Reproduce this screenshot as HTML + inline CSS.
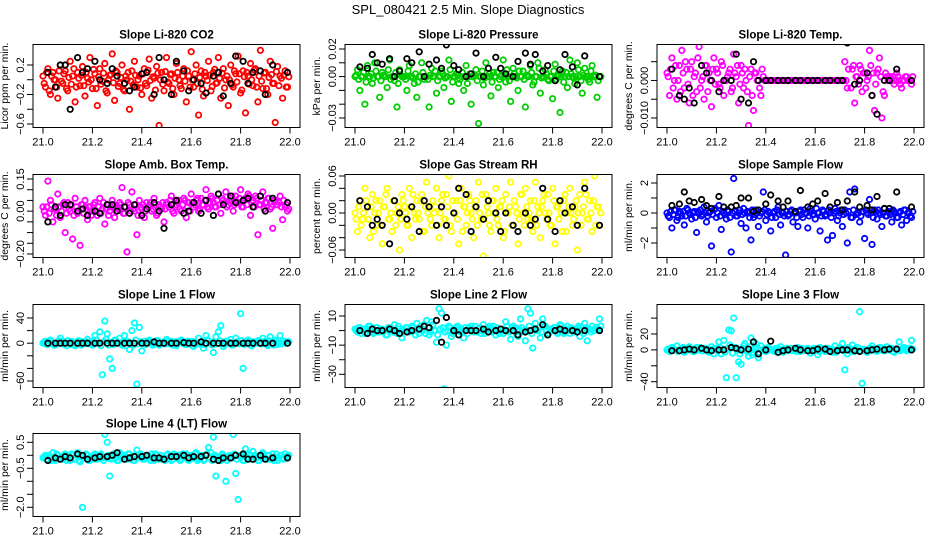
<!DOCTYPE html>
<html><head><meta charset="utf-8">
<style>
html,body{margin:0;padding:0;background:#fff;}
svg{display:block;font-family:"Liberation Sans",Arial,sans-serif;}
</style></head>
<body>
<svg id="chart" width="936" height="540" viewBox="0 0 936 540" xmlns="http://www.w3.org/2000/svg">
<rect x="0" y="0" width="936" height="540" fill="#fff"/>
<text x="468" y="14" text-anchor="middle" font-size="13">SPL_080421  2.5 Min. Slope Diagnostics</text>
</svg>
<script>
const colorTimes=[21.00,21.01,21.02,21.03,21.04,21.05,21.06,21.07,21.08,21.09,21.10,21.11,21.12,21.13,21.14,21.15,21.16,21.17,21.18,21.19,21.20,21.21,21.22,21.23,21.24,21.25,21.26,21.27,21.28,21.29,21.30,21.31,21.32,21.33,21.34,21.35,21.36,21.37,21.38,21.39,21.40,21.41,21.42,21.43,21.44,21.45,21.46,21.47,21.48,21.49,21.50,21.51,21.52,21.53,21.54,21.55,21.56,21.57,21.58,21.59,21.60,21.61,21.62,21.63,21.64,21.65,21.66,21.67,21.68,21.69,21.70,21.71,21.72,21.73,21.74,21.75,21.76,21.77,21.78,21.79,21.80,21.81,21.82,21.83,21.84,21.85,21.86,21.87,21.88,21.89,21.90,21.91,21.92,21.93,21.94,21.95,21.96,21.97,21.98,21.99];
const coreTimes=[21.005,21.015,21.025,21.035,21.045,21.055,21.065,21.075,21.085,21.095,21.105,21.115,21.125,21.135,21.145,21.155,21.165,21.175,21.185,21.195,21.205,21.215,21.225,21.235,21.245,21.255,21.265,21.275,21.285,21.295,21.305,21.315,21.325,21.335,21.345,21.355,21.365,21.375,21.385,21.395,21.405,21.415,21.425,21.435,21.445,21.455,21.465,21.475,21.485,21.495,21.505,21.515,21.525,21.535,21.545,21.555,21.565,21.575,21.585,21.595,21.605,21.615,21.625,21.635,21.645,21.655,21.665,21.675,21.685,21.695,21.705,21.715,21.725,21.735,21.745,21.755,21.765,21.775,21.785,21.795,21.805,21.815,21.825,21.835,21.845,21.855,21.865,21.875,21.885,21.895,21.905,21.915,21.925,21.935,21.945,21.955,21.965,21.975,21.985,21.995];
const blackTimes=[21.02,21.05,21.07,21.09,21.11,21.14,21.16,21.18,21.21,21.23,21.26,21.28,21.30,21.33,21.35,21.37,21.40,21.42,21.45,21.47,21.49,21.52,21.54,21.57,21.59,21.61,21.64,21.66,21.69,21.71,21.73,21.76,21.78,21.81,21.83,21.85,21.88,21.90,21.93,21.99];
const xTicks=[21.0,21.2,21.4,21.6,21.8,22.0];

const co2Values=[0.05,-0.1,0.15,-0.2,0.1,0.0,-0.25,0.2,-0.05,0.12,-0.15,0.25,0.05,-0.3,0.1,-0.08,0.18,-0.22,0.02,0.3,-0.12,0.08,-0.35,0.15,-0.02,0.22,-0.18,0.06,0.35,-0.28,0.1,-0.05,0.2,-0.15,0.0,-0.4,0.12,0.25,-0.1,0.05,-0.2,0.15,-0.08,0.28,-0.25,0.02,0.18,-0.62,0.1,-0.15,0.3,-0.05,0.08,-0.2,0.22,0.0,-0.12,0.15,-0.3,0.05,0.38,-0.1,0.2,-0.48,0.12,-0.22,0.05,0.25,-0.15,0.1,-0.05,0.3,-0.25,0.15,0.0,-0.35,0.2,-0.1,0.08,0.32,-0.18,0.12,-0.45,0.05,0.22,-0.08,0.15,-0.3,0.4,-0.12,0.1,-0.2,0.25,-0.05,-0.58,0.18,0.05,-0.25,0.12,-0.1];
const co2Core=[-0.05,0.1,-0.15,0.05,0.0,-0.1,0.12,-0.02,0.08,-0.12,0.03,-0.06,0.15,-0.1,0.02,0.06,-0.08,0.1,-0.03,0.0,0.14,-0.12,0.04,-0.06,0.09,-0.15,0.0,0.07,-0.04,0.12,-0.09,0.03,-0.13,0.05,0.1,-0.02,-0.07,0.06,0.0,-0.11,0.08,-0.05,0.13,-0.01,0.04,-0.14,0.09,0.0,-0.06,0.11,-0.03,0.07,-0.12,0.02,0.1,-0.08,0.05,-0.02,0.12,-0.1,0.0,0.08,-0.05,0.03,-0.13,0.1,-0.01,0.06,-0.09,0.14,-0.04,0.02,0.09,-0.11,0.05,0.0,-0.07,0.12,-0.03,0.08,-0.14,0.04,0.1,-0.06,0.0,0.13,-0.1,0.05,-0.02,0.09,-0.12,0.03,0.07,-0.05,0.11,-0.08,0.02,0.06,-0.1,0.04];
const co2Black=[0.1,-0.1,0.2,0.2,-0.4,0.3,0.1,0.15,0.25,0.0,-0.05,0.15,0.05,-0.05,-0.15,-0.1,0.08,0.1,-0.2,0.3,0.0,-0.2,0.25,0.12,-0.15,0.0,-0.05,-0.18,0.05,0.1,-0.22,-0.05,0.32,0.25,-0.05,0.1,0.12,-0.2,0.2,0.1];

const pressValues=[0.0,0.005,-0.01,0.0,-0.02,0.008,0.0,-0.005,0.01,0.0,-0.015,0.003,0.0,-0.008,0.012,0.0,-0.003,-0.022,0.005,0.0,0.0,-0.01,0.008,0.0,-0.005,-0.015,0.0,0.01,-0.002,0.0,-0.022,0.006,0.0,-0.012,0.0,0.004,-0.008,0.0,0.012,-0.018,0.0,0.002,-0.005,0.0,-0.01,0.008,0.0,-0.02,0.0,0.005,-0.034,0.0,-0.006,0.01,0.0,-0.014,0.003,0.0,-0.008,0.0,0.012,-0.004,0.0,-0.018,0.006,0.0,-0.01,0.0,0.004,-0.022,0.0,0.008,-0.006,0.0,0.01,-0.012,0.0,0.005,-0.002,0.0,-0.016,0.009,0.0,-0.026,0.004,0.0,-0.008,0.012,0.0,-0.005,0.01,0.0,-0.012,0.006,0.0,-0.004,0.008,0.0,-0.015,0.0];
const pressCore=[0.001,-0.002,0.0,0.003,-0.004,0.0,0.002,-0.001,0.004,0.0,-0.003,0.001,0.0,0.005,-0.002,0.0,0.003,-0.005,0.001,0.0,-0.002,0.004,0.0,-0.001,0.002,-0.004,0.0,0.003,0.0,-0.002,0.001,0.0,0.004,-0.003,0.0,0.002,-0.001,0.0,0.005,-0.004,0.0,0.001,-0.002,0.003,0.0,-0.005,0.002,0.0,0.001,-0.003,0.0,0.004,-0.001,0.0,0.002,-0.004,0.0,0.003,-0.002,0.001,0.0,0.005,-0.003,0.0,0.002,-0.001,0.004,0.0,-0.002,0.001,0.0,0.003,-0.004,0.0,0.006,-0.001,0.0,0.002,-0.003,0.0,0.004,-0.002,0.001,0.0,-0.004,0.003,0.0,0.002,-0.001,0.0,0.005,-0.003,0.001,0.0,-0.002,0.004,0.0,0.001,-0.003,0.0];
const pressBlack=[0.007,0.006,0.016,0.01,0.009,0.013,0.0,0.004,0.013,0.01,0.018,0.0,0.009,0.012,0.006,0.023,0.008,0.005,0.0,0.002,0.017,0.0,0.006,0.014,0.006,0.002,0.0,0.011,0.017,0.009,0.016,0.004,0.008,-0.003,0.005,0.016,0.007,-0.006,0.015,0.0];

const tempValues=[0.002,-0.004,0.006,0.0,-0.005,0.004,0.008,-0.002,0.003,-0.006,0.005,0.001,-0.003,0.009,0.0,-0.005,0.004,0.002,-0.007,0.006,0.003,-0.001,0.005,-0.004,0.0,0.002,-0.003,0.007,0.001,-0.006,0.004,-0.002,0.0,-0.012,0.003,-0.008,0.002,0.011,-0.004,0.001,0.0,0.0,0.0,0.0,0.0,0.0,0.0,0.0,0.0,0.0,0.0,0.0,0.0,0.0,0.0,0.0,0.0,0.0,0.0,0.0,0.0,0.0,0.0,0.0,0.0,0.0,0.0,0.0,0.0,0.0,0.0,0.0,0.005,-0.002,0.012,0.003,-0.006,0.001,0.004,-0.003,0.002,0.0,0.008,-0.004,-0.008,0.002,0.006,-0.01,-0.004,0.001,0.001,0.0,-0.001,0.002,0.0,-0.002,0.0,0.001,0.0,-0.001];
const tempCore=[0.001,0.003,-0.002,0.004,0.0,-0.003,0.002,0.005,-0.001,0.003,-0.004,0.002,0.006,-0.002,0.001,0.004,-0.003,0.0,0.003,-0.001,0.002,-0.002,0.004,0.0,0.001,0.003,-0.002,0.002,0.004,-0.001,0.002,0.003,-0.003,0.001,-0.004,0.002,0.0,-0.002,0.003,0.0,0.0,0.0,0.0,0.0,0.0,0.0,0.0,0.0,0.0,0.0,0.0,0.0,0.0,0.0,0.0,0.0,0.0,0.0,0.0,0.0,0.0,0.0,0.0,0.0,0.0,0.0,0.0,0.0,0.0,0.0,0.0,0.0,0.0,0.003,-0.002,0.004,0.001,-0.001,0.003,0.002,-0.002,0.001,0.004,0.002,-0.001,0.003,0.001,-0.003,0.002,0.0,0.001,0.001,0.0,0.001,-0.001,0.0,0.001,0.0,0.0,0.001];
const tempBlack=[0.003,-0.004,-0.005,-0.002,-0.006,0.004,0.002,0.0,-0.003,0.0,0.0,0.007,-0.005,-0.006,0.005,0.0,0.0,0.0,0.0,0.0,0.0,0.0,0.0,0.0,0.0,0.0,0.0,0.0,0.0,0.0,0.01,-0.001,0.0,0.002,-0.004,-0.009,0.0,0.0,0.003,0.0];

const ambValues=[0.02,-0.02,0.14,0.05,-0.05,0.01,0.08,-0.03,0.03,-0.1,0.04,0.0,-0.13,0.06,-0.01,-0.16,0.03,0.05,-0.04,0.02,0.0,0.04,-0.02,0.06,0.01,-0.06,0.03,0.0,0.05,-0.03,0.02,0.04,0.11,-0.01,-0.19,0.03,0.09,0.0,-0.11,0.05,0.01,-0.03,0.04,0.02,0.0,0.06,-0.02,0.03,0.01,-0.05,0.04,0.02,0.07,-0.01,0.03,0.05,0.0,0.06,-0.03,0.04,0.08,0.02,0.05,0.0,0.06,0.03,0.1,0.01,0.07,0.04,0.02,0.08,-0.01,0.05,0.09,0.03,0.06,0.0,0.07,0.04,0.1,0.02,0.06,0.08,-0.02,0.05,0.07,-0.11,0.03,0.09,0.04,0.06,0.01,-0.08,0.05,0.03,0.07,-0.04,0.02,0.0];
const ambCore=[0.0,0.02,-0.01,0.03,0.01,-0.02,0.02,0.0,0.04,-0.01,0.01,0.03,-0.02,0.02,0.0,0.03,-0.01,0.01,0.02,-0.02,0.03,0.0,0.02,-0.01,0.04,0.01,-0.02,0.02,0.03,0.0,0.01,0.03,-0.01,0.02,0.04,0.0,0.01,0.03,-0.02,0.02,0.03,0.0,0.02,0.04,0.01,0.03,-0.01,0.02,0.04,0.01,0.03,0.05,0.0,0.02,0.04,0.01,0.03,0.05,0.02,0.0,0.04,0.03,0.06,0.01,0.03,0.05,0.02,0.04,0.06,0.02,0.05,0.03,0.06,0.04,0.02,0.05,0.07,0.03,0.04,0.06,0.02,0.05,0.03,0.07,0.04,0.02,0.06,0.03,0.05,0.01,0.04,0.06,0.02,0.05,0.03,0.04,0.02,0.05,0.03,0.01];
const ambBlack=[-0.05,0.02,-0.02,0.03,0.03,0.0,0.01,-0.02,0.0,-0.01,0.03,0.03,0.0,0.02,-0.01,0.03,-0.02,0.01,0.04,0.0,-0.08,0.03,0.05,-0.01,0.0,0.04,-0.01,0.05,-0.02,0.08,0.03,0.07,0.04,0.05,0.06,0.02,0.07,0.0,0.06,0.04];

const rhValues=[0.0,-0.03,0.02,-0.01,0.04,0.01,-0.04,0.03,0.0,-0.02,0.02,-0.05,0.01,0.04,-0.01,-0.03,0.02,0.0,-0.06,0.03,0.01,-0.02,0.04,-0.04,0.0,0.02,-0.01,0.03,-0.03,0.05,0.01,-0.02,0.0,0.04,-0.04,0.02,-0.01,0.03,0.06,-0.03,0.0,0.02,-0.05,0.04,0.01,-0.02,0.03,0.0,-0.04,0.02,0.05,-0.01,-0.07,0.03,0.0,-0.03,0.02,0.04,-0.02,0.01,-0.04,0.03,0.0,0.05,-0.02,0.01,-0.05,0.03,0.0,0.04,-0.01,0.02,-0.03,0.05,0.01,-0.04,0.02,0.0,0.03,-0.02,0.04,-0.05,0.01,0.02,-0.03,0.03,0.0,0.04,-0.02,0.01,-0.06,0.03,0.0,0.05,-0.01,0.02,-0.03,0.06,0.01,-0.02];
const rhCore=[-0.01,0.01,-0.02,0.0,0.02,-0.01,0.01,-0.03,0.02,0.0,-0.02,0.01,0.03,-0.01,0.0,0.02,-0.02,0.01,-0.01,0.02,0.0,-0.02,0.01,0.03,-0.01,0.0,0.02,-0.03,0.01,0.0,-0.01,0.02,0.01,-0.02,0.0,0.03,-0.01,0.01,-0.02,0.02,0.0,-0.01,0.02,-0.03,0.01,0.0,0.02,-0.01,0.01,-0.02,0.0,0.03,-0.01,0.01,-0.02,0.02,0.0,-0.01,0.01,0.02,-0.03,0.0,0.01,-0.02,0.02,0.0,-0.01,0.03,-0.02,0.01,0.0,-0.01,0.02,-0.02,0.0,0.01,0.03,-0.01,0.0,-0.02,0.02,0.01,-0.01,0.0,0.02,-0.03,0.01,0.0,-0.01,0.02,0.0,-0.02,0.01,0.03,-0.01,0.0,0.02,-0.02,0.01,0.0];
const rhBlack=[0.02,0.01,-0.02,-0.01,-0.02,-0.05,0.02,0.0,-0.01,0.01,-0.03,0.02,0.01,-0.02,0.01,-0.02,0.0,0.04,0.03,-0.03,0.01,-0.01,0.02,0.0,-0.03,0.0,-0.02,-0.03,0.0,-0.02,-0.01,0.04,-0.01,-0.03,0.02,0.0,0.01,-0.02,0.04,-0.02];

const flowValues=[0.0,-0.3,-1.0,0.2,-0.5,0.1,-0.2,-0.8,0.3,0.0,-0.4,0.1,-1.3,0.0,-0.2,0.4,-0.6,0.0,-2.2,0.2,-0.3,0.5,-1.1,0.0,-0.4,0.1,-2.6,2.3,-0.2,0.0,-0.7,0.3,-1.0,0.0,-1.8,-0.3,0.2,-0.9,0.0,1.4,-0.5,0.1,-1.2,0.0,-0.3,0.4,-0.8,0.0,-2.8,-0.2,0.1,-0.6,0.0,-0.9,0.2,-0.3,0.0,-1.0,0.3,-0.1,-0.4,0.0,-1.2,0.2,-0.2,-1.8,0.0,-1.5,0.3,-0.5,0.0,-0.9,0.2,-2.0,1.4,-0.3,1.6,0.0,-0.6,0.1,-1.7,0.0,0.9,-2.1,0.2,-0.4,0.0,-0.9,0.3,-0.2,0.0,-0.6,0.1,-0.3,0.0,-0.8,0.2,-0.5,0.0,-0.3];
const flowCore=[-0.2,0.1,-0.1,0.2,-0.3,0.0,0.1,-0.2,0.2,-0.1,0.0,-0.3,0.1,0.2,-0.1,0.0,-0.2,0.1,-0.1,0.3,0.0,-0.2,0.1,-0.1,0.2,-0.3,0.0,0.1,-0.2,0.2,-0.1,0.0,0.1,-0.3,0.2,-0.1,0.0,-0.2,0.1,0.2,-0.1,0.0,-0.3,0.1,0.2,-0.1,0.0,-0.2,0.1,-0.1,0.2,0.0,-0.3,0.1,-0.1,0.2,0.0,-0.2,0.1,-0.1,0.3,0.0,-0.2,0.1,-0.1,0.2,-0.3,0.0,0.1,-0.2,0.2,-0.1,0.0,0.1,-0.3,0.2,-0.1,0.0,-0.2,0.1,0.2,-0.1,0.0,-0.3,0.1,0.2,-0.1,0.0,-0.2,0.1,-0.1,0.2,0.0,-0.3,0.1,-0.1,0.2,0.0,-0.2,0.1];
const flowBlack=[0.5,0.6,1.4,0.8,0.7,0.9,0.5,0.3,1.1,0.4,0.4,0.5,1.0,1.0,0.1,0.2,0.6,1.2,0.8,0.4,0.8,0.1,1.5,0.4,0.6,0.8,1.3,0.4,0.7,0.2,0.8,1.4,0.4,0.5,0.2,1.1,0.3,0.3,1.4,0.4];

const line1Values=[0,3,-2,5,0,-3,2,8,-1,0,4,-2,1,-4,3,0,2,-1,6,0,-3,12,0,18,-50,35,15,-25,-40,5,0,8,-3,12,2,-10,20,32,-65,25,-12,3,0,5,-2,1,4,-3,0,2,6,-1,3,0,-4,2,5,0,-2,1,3,-5,0,8,-2,-8,12,4,0,-15,10,18,28,-5,3,0,6,-2,8,1,47,-40,0,5,-3,2,0,4,-1,8,3,-4,10,0,5,-2,12,3,0,2];
const line1Core=[2,-2,3,0,-3,1,4,-1,2,-4,0,3,-2,1,4,-3,0,2,-1,3,-2,5,0,-4,2,6,-3,1,-2,4,0,-1,3,-4,2,0,-3,5,-1,2,0,-2,3,1,-3,0,4,-2,1,-1,3,0,-3,2,-1,4,0,-2,3,1,-4,2,0,-1,3,-2,5,0,-3,2,-1,4,0,-2,3,1,-3,0,2,-1,4,-2,0,3,-4,1,2,0,-1,3,-2,4,0,-3,2,1,-1,3,0,2];
const line1Black=[0,0,0,0,0,0,0,0,0,0,0,0,0,0,0,0,0,0,2,0,0,0,0,1,0,0,2,0,0,0,0,0,0,0,0,0,0,0,0,0];

const line2Values=[1,-1,2,0,-2,1,3,-1,0,2,-1,1,0,-3,2,0,4,-2,1,-5,0,2,-1,3,0,5,-2,1,4,7,-3,6,0,-8,15,12,-40,-10,3,-4,0,2,-3,1,-5,0,2,3,-1,0,1,-2,4,0,-1,2,3,-3,0,1,-2,6,0,-6,3,2,-4,8,0,-7,15,12,-12,5,0,-5,8,3,-3,1,0,2,-2,4,0,-1,3,-2,1,0,2,-4,0,5,-7,1,3,0,2,8];
const line2Core=[0,2,-2,1,-1,3,0,-2,2,-1,1,0,-3,2,1,-1,0,3,-2,1,2,-1,0,2,-3,1,3,0,-2,2,-1,4,0,-3,1,2,-1,0,2,-2,1,3,-1,0,2,-2,1,0,3,-1,2,0,-2,1,3,-1,0,2,-2,1,0,3,-1,2,0,-3,1,2,-1,0,3,-2,1,0,2,-1,3,0,-2,1,2,0,-1,3,-2,1,0,2,-1,1,3,0,-2,2,1,-1,0,2,1,3];
const line2Black=[0,-2,1,0,0,1,0,-2,-1,0,1,3,2,7,-8,9,0,-3,0,0,0,1,-1,0,1,0,0,-3,-1,0,1,4,-3,0,1,0,0,-1,0,0];

const line3Values=[0,-2,3,0,5,-1,2,-3,0,4,1,-2,3,0,-1,2,0,-3,4,-5,0,10,-5,12,-35,25,24,40,-35,-15,-18,5,0,-8,15,-3,8,-10,5,0,-2,3,0,-1,2,0,4,-3,1,0,2,-1,0,3,-2,1,0,2,-4,0,1,-6,3,0,-2,2,0,-3,5,0,3,8,-25,-5,0,6,-2,3,48,-42,0,-3,2,5,0,-2,3,0,-1,4,0,2,-3,1,10,0,3,-1,2,12];
const line3Core=[1,-1,2,0,-2,1,3,-1,0,2,-2,1,0,3,-1,2,0,-2,1,2,-1,3,0,-3,2,6,-4,3,0,-5,2,8,-2,4,-6,1,3,-3,0,2,-1,1,0,-2,2,1,-1,0,2,-1,1,0,-2,1,2,-1,0,1,-1,2,0,-2,1,0,2,-1,1,0,-3,1,2,-1,0,3,-2,1,0,2,-1,1,0,-2,2,1,-1,0,3,-1,1,0,2,-2,1,0,-1,2,1,0,2,1];
const line3Black=[-1,-1,0,1,0,2,0,-1,0,0,3,2,0,1,10,-5,0,11,-3,-1,0,2,0,-1,-1,1,1,-2,-1,0,0,-1,-2,-1,0,1,0,1,1,0];

const line4Values=[-0.1,0.0,-0.2,-0.1,0.1,-0.2,0.0,-0.1,-0.15,0.05,-0.1,-0.2,0.0,-0.1,0.1,-0.25,-2.0,-0.1,0.0,-0.2,-0.1,0.05,-0.15,0.0,-0.1,0.8,0.5,-0.8,-0.1,0.0,-0.2,0.1,-0.1,0.0,-0.15,0.05,-0.1,-0.2,0.2,0.0,-0.1,-0.15,0.0,-0.1,0.05,-0.2,0.0,-0.1,-0.15,-2.6,0.0,-0.1,-0.2,0.05,-0.1,0.0,-0.15,-0.1,0.05,-0.2,0.0,-0.1,0.1,-0.15,0.0,-0.2,0.0,0.3,0.1,0.7,-0.8,-0.1,-0.2,0.0,-1.0,-0.1,0.0,0.8,-0.7,-1.7,0.0,-0.2,0.25,-0.1,0.0,0.15,-0.1,-0.2,0.0,0.1,-0.1,0.0,-0.15,0.05,-0.1,-0.2,0.0,-0.1,0.05,-0.05];
const line4Core=[-0.05,-0.15,0.0,-0.2,-0.1,0.05,-0.15,-0.05,0.0,-0.2,-0.1,0.05,-0.15,0.0,-0.2,-0.05,-0.1,0.05,-0.2,-0.1,0.0,-0.15,-0.05,0.05,-0.2,-0.1,0.0,-0.15,0.05,-0.1,-0.2,0.0,-0.05,-0.15,0.05,-0.1,-0.2,0.0,-0.1,0.05,-0.15,-0.05,0.0,-0.2,-0.1,0.05,-0.15,0.0,-0.1,-0.2,0.05,-0.05,-0.15,0.0,-0.1,-0.2,0.05,-0.1,0.0,-0.15,-0.05,0.05,-0.2,-0.1,0.0,-0.15,0.05,-0.1,-0.2,0.0,-0.05,-0.15,0.05,-0.1,-0.2,0.0,-0.1,0.05,-0.15,-0.05,0.0,-0.2,-0.1,0.05,-0.15,0.0,-0.1,-0.2,0.05,-0.05,-0.15,0.0,-0.1,-0.2,0.05,-0.1,0.0,-0.15,-0.05,0.0];
const line4Black=[-0.2,-0.1,-0.15,-0.05,-0.1,0.05,0.0,-0.15,-0.1,-0.05,-0.05,0.0,0.1,-0.15,-0.1,-0.05,-0.05,0.0,-0.1,-0.1,-0.15,-0.05,-0.05,0.0,-0.1,-0.05,-0.05,0.0,-0.15,-0.2,-0.1,-0.1,0.0,0.05,-0.15,-0.15,0.0,-0.15,-0.1,-0.1];

const co2Ticks=[-0.6,-0.4,-0.2,0,0.2], co2Labels=["−0.6","","−0.2","","0.2"];
const pressTicks=[-0.03,-0.02,-0.01,0,0.01,0.02], pressLabels=["−0.03","","","0.00","","0.02"];
const tempTicks=[-0.01,-0.005,0,0.005], tempLabels=["−0.010","","0.000",""];
const ambTicks=[-0.2,-0.15,-0.1,-0.05,0,0.05,0.1,0.15], ambLabels=["−0.20","","","","0.00","","","0.15"];
const rhTicks=[-0.06,-0.04,-0.02,0,0.02,0.04,0.06], rhLabels=["−0.06","","","0.00","","","0.06"];
const flowTicks=[-2,-1,0,1,2], flowLabels=["−2","","0","","2"];
const line1Ticks=[-60,-40,-20,0,20,40], line1Labels=["−60","","","0","","40"];
const line2Ticks=[-30,-20,-10,0,10], line2Labels=["−30","","−10","","10"];
const line3Ticks=[-40,-20,0,20,40], line3Labels=["−40","","0","20",""];
const line4Ticks=[-2,-1.5,-1,-0.5,0,0.5], line4Labels=["−2.0","","","−0.5","","0.5"];

const NS="http://www.w3.org/2000/svg";
const svg=document.getElementById('chart');
function mk(tag,attrs,parent){const e=document.createElementNS(NS,tag);for(const k in attrs)e.setAttribute(k,attrs[k]);(parent||svg).appendChild(e);return e;}

const panels=[
 ["Slope Li-820 CO2","Licor ppm per min.",33,44.5,0.2,65,-0.6,124,"#ff0000",co2Values,co2Core,co2Black,co2Ticks,co2Labels,"co2"],
 ["Slope Li-820 Pressure","kPa per min.",345,44.5,0.02,49,-0.03,118,"#00cd00",pressValues,pressCore,pressBlack,pressTicks,pressLabels,"pressure"],
 ["Slope Li-820 Temp.","degrees C per min.",657,44.5,0.005,61.7,-0.01,118,"#ff00ff",tempValues,tempCore,tempBlack,tempTicks,tempLabels,"licor-temp"],
 ["Slope Amb. Box Temp.","degrees C per min.",33,174.5,0.15,179,-0.2,254,"#ff00ff",ambValues,ambCore,ambBlack,ambTicks,ambLabels,"amb-box-temp"],
 ["Slope Gas Stream RH","percent per min.",345,174.5,0.06,176,-0.06,250,"#ffff00",rhValues,rhCore,rhBlack,rhTicks,rhLabels,"gas-rh"],
 ["Slope Sample Flow","ml/min per min.",657,174.5,2,183,-2,243,"#0000ff",flowValues,flowCore,flowBlack,flowTicks,flowLabels,"sample-flow"],
 ["Slope Line 1 Flow","ml/min per min.",33,304.5,40,318,-60,381,"#00ffff",line1Values,line1Core,line1Black,line1Ticks,line1Labels,"line1-flow"],
 ["Slope Line 2 Flow","ml/min per min.",345,304.5,10,316,-30,374.3,"#00ffff",line2Values,line2Core,line2Black,line2Ticks,line2Labels,"line2-flow"],
 ["Slope Line 3 Flow","ml/min per min.",657,304.5,20,334,-40,381.7,"#00ffff",line3Values,line3Core,line3Black,line3Ticks,line3Labels,"line3-flow"],
 ["Slope Line 4 (LT) Flow","ml/min per min.",33,433.5,0.5,442.3,-2.0,507.3,"#00ffff",line4Values,line4Core,line4Black,line4Ticks,line4Labels,"line4-flow"]
];
const W=267,H=83;
panels.forEach(p=>{
 const [title,ytitle,L,T,v0,y0,v1,y1,col,vals,core,blk,ticks,labels,nm]=p;
 const g=mk('g',{});
 
 
 const xs=v=>L+10+(v-21)*247;
 const ys=v=>y0+(v-v0)*(y1-y0)/(v1-v0);
 const clip=mk('clipPath',{id:'c-'+nm},g);
 mk('rect',{x:L,y:T,width:W,height:H},clip);
 const t=mk('text',{x:L+W/2,y:T-6,'text-anchor':'middle','font-size':'11.5','font-weight':'bold'},g);
 t.textContent=title;
 
 
 const yt=mk('text',{transform:`translate(${L-25},${T+H/2}) rotate(-90)`,'text-anchor':'middle','font-size':'10.5'},g);
 yt.textContent=ytitle;
 
 
 const pts=mk('g',{'clip-path':`url(#c-${nm})`,fill:'none','stroke-width':'1.8'},g);
 
 
 vals.forEach((v,i)=>{const c=mk('circle',{cx:xs(colorTimes[i]).toFixed(1),cy:ys(v).toFixed(1),r:2.7,stroke:col},pts);
  
  });
 core.forEach((v,i)=>{const c=mk('circle',{cx:xs(coreTimes[i]).toFixed(1),cy:ys(v).toFixed(1),r:2.7,stroke:col},pts);
  
  });
 blk.forEach((v,i)=>{const c=mk('circle',{cx:xs(blackTimes[i]).toFixed(1),cy:ys(v).toFixed(1),r:2.7,stroke:'#000'},pts);
  
  });
 const box=mk('rect',{x:L,y:T,width:W,height:H,fill:'none',stroke:'#000','stroke-width':'1'},g);
 
 
 xTicks.forEach(v=>{
  mk('line',{x1:xs(v),x2:xs(v),y1:T+H,y2:T+H+6,stroke:'#000'},g);
  const tl=mk('text',{x:xs(v),y:T+H+18,'text-anchor':'middle','font-size':'11'},g);
  tl.textContent=v.toFixed(1);
  
  
 });
 ticks.forEach((v,i)=>{
  mk('line',{x1:L-6,x2:L,y1:ys(v),y2:ys(v),stroke:'#000'},g);
  if(labels[i]){const tl=mk('text',{transform:`translate(${L-9},${ys(v)}) rotate(-90)`,'text-anchor':'middle','font-size':'11'},g);
   tl.textContent=labels[i];
   
   }
 });
});
</script>
</body></html>
